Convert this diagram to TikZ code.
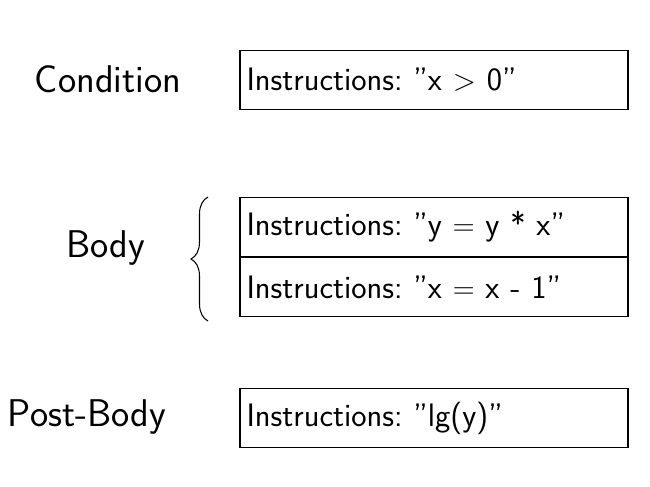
\documentclass[tikz,border=0pt]{standalone}
\usepackage{fontspec}
\usetikzlibrary{positioning, decorations.pathreplacing}
\renewcommand{\familydefault}{\sfdefault}
\frenchspacing
\tikzset{
  instrbox/.style={draw, semithick, minimum width=7.76cm, minimum height=1.18cm,
    text width=7.5cm, align=left, inner xsep=0.13cm, font=\fontsize{18.5}{21}\selectfont},
  partlabel/.style={font=\fontsize{22}{26}\selectfont}
}
\begin{document}
\begin{tikzpicture}
\useasboundingbox (0,0) rectangle (13,9.72);
\node[instrbox] (cond) at (8.68,8.12) {Instructions: "x $>$ 0"};
\node[instrbox] (body1) at (8.68,5.18) {Instructions: "y $=$ y * x"};
\node[instrbox, below=0cm of body1] (body2) {Instructions: "x $=$ x - 1"};
\node[instrbox] (post) at (8.68,1.36) {Instructions: "lg(y)"};

\node[partlabel] (lcond) at (2.16,8.14) {Condition};
\node[partlabel] (lbody) at (2.12,4.76) {Body};
\node[partlabel] (lpost) at (1.74,1.38) {Post-Body};

\coordinate (btop) at (4.16,5.78);
\coordinate (bbot) at (4.16,3.30);
\draw[semithick, decoration={brace, amplitude=0.34cm}, decorate] (bbot) -- (btop);
\end{tikzpicture}
\end{document}
